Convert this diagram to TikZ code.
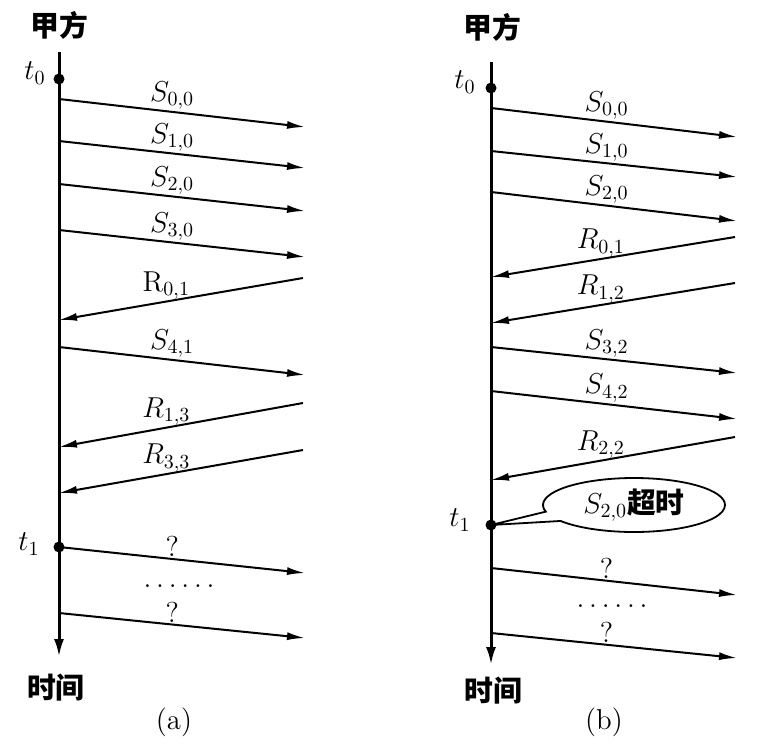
\documentclass[tikz,border=0pt]{standalone}
\usepackage{fontspec}
\newfontfamily\cjkfont{Noto Sans CJK SC}
\usetikzlibrary{arrows.meta,shapes.callouts}

\begin{document}
\begin{tikzpicture}[x=0.5pt, y=-0.5pt,
    timeline/.style={line width=1.5pt, -{Latex[length=9pt,width=5pt]}},
    msg/.style={line width=1pt, -{Latex[length=9pt,width=4pt]}},
    lbl/.style={above, inner sep=0.5pt, font=\Large},
    tick/.style={circle, fill, inner sep=0pt, minimum size=5.5pt},
    cjk/.style={font=\cjkfont\bfseries\Large},
    txt/.style={font=\Large},
    dotrow/.style={font=\Large, inner sep=0pt}]
    \useasboundingbox (0,0) rectangle (760,750);
    % Left picture (a):
    \coordinate (aTop) at (59,52);
    \coordinate (aEnd) at (59,657);
    \draw[timeline] (aTop) -- (aEnd);
    \node[cjk] (aParty) at (59,25) {甲方};
    \node[cjk] (aTime) at (56,688) {时间};
    \node[txt] (aCap) at (174,722) {(a)};
    \node[tick] (aT0) at (59,79) {};
    \node[txt] (aT0l) at (35,73) {$t_0$};
    \node[tick] (aT1) at (59,547) {};
    \node[txt] (aT1l) at (29,544) {$t_1$};
    \foreach \n/\yl/\yr/\lab in {0/99/127/{S_{0,0}}, 1/141/168/{S_{1,0}},
            2/184/211/{S_{2,0}}, 3/230/257/{S_{3,0}}, 4/347/375/{S_{4,1}},
            5/547/573/{?}, 6/613/638/{?}} {
        \coordinate (aS\n l) at (59,\yl);
        \coordinate (aS\n r) at (305,\yr);
        \draw[msg] (aS\n l) -- node[lbl, pos=0.46] (aS\n t) {$\lab$} (aS\n r);
    }
    \foreach \n/\yr/\yl/\lab in {0/278/320/{\mathrm{R}_{0,1}},
            1/403/447/{R_{1,3}}, 2/450/493/{R_{3,3}}} {
        \coordinate (aR\n r) at (303,\yr);
        \coordinate (aR\n l) at (59,\yl);
        \draw[msg] (aR\n r) -- node[lbl, pos=0.56] (aR\n t) {$\lab$} (aR\n l);
    }
    \node[dotrow] (aDots) at (179,586) {.\,.\,.\,.\,.\,.};
    % Right picture (b):
    \coordinate (bTop) at (491,62);
    \coordinate (bEnd) at (491,665);
    \draw[timeline] (bTop) -- (bEnd);
    \node[cjk] (bParty) at (492,27) {甲方};
    \node[cjk] (bTime) at (493,691) {时间};
    \node[txt] (bCap) at (604,722) {(b)};
    \node[tick] (bT0) at (491,88) {};
    \node[txt] (bT0l) at (465,82) {$t_0$};
    \node[tick] (bT1) at (491,525) {};
    \node[txt] (bT1l) at (460,520) {$t_1$};
    \foreach \n/\yl/\yr/\lab in {0/108/137/{S_{0,0}}, 1/151/177/{S_{1,0}},
            2/192/221/{S_{2,0}}, 3/347/373/{S_{3,2}}, 4/391/419/{S_{4,2}},
            5/568/595/{?}, 6/633/658/{?}} {
        \coordinate (bS\n l) at (491,\yl);
        \coordinate (bS\n r) at (737,\yr);
        \draw[msg] (bS\n l) -- node[lbl, pos=0.47] (bS\n t) {$\lab$} (bS\n r);
    }
    \foreach \n/\yr/\yl/\lab in {0/237/277/{R_{0,1}}, 1/283/323/{R_{1,2}},
            2/437/480/{R_{2,2}}} {
        \coordinate (bR\n r) at (735,\yr);
        \coordinate (bR\n l) at (491,\yl);
        \draw[msg] (bR\n r) -- node[lbl, pos=0.55] (bR\n t) {$\lab$} (bR\n l);
    }
    \node[dotrow] (bDots) at (612,606) {.\,.\,.\,.\,.\,.};
    \node[ellipse callout, draw, line width=0.9pt, minimum width=91pt,
        minimum height=27pt, inner sep=0pt, callout absolute pointer={(bT1)},
        callout pointer arc=22, txt] (bTimeout) at (634,505)
        {$S_{2,0}${\cjkfont\bfseries 超时}};
\end{tikzpicture}
\end{document}
